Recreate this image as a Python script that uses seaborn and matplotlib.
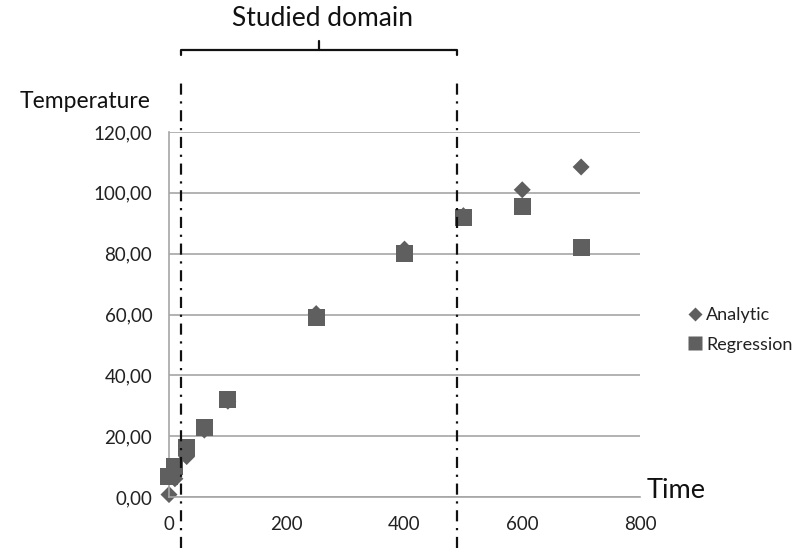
import numpy as np
import pandas as pd
import matplotlib
matplotlib.use("Agg")
import matplotlib.pyplot as plt
import matplotlib.transforms as mtransforms
from matplotlib.lines import Line2D
import seaborn as sns

# ---- data ----
time = [0, 10, 30, 60, 100, 250, 400, 500, 600, 700]
analytic = [0.8, 6.0, 13.3, 22.0, 31.5, 60.3, 81.5, 92.5, 101.0, 108.5]
regression = [6.8, 10.0, 16.3, 23.0, 32.0, 59.0, 80.0, 92.0, 95.5, 82.0]
series_names = ["Analytic", "Regression"]
x_ticks = [0, 200, 400, 600, 800]
y_ticks = [0, 20, 40, 60, 80, 100, 120]
domain_bounds = [20, 490]

sns.set_theme(style="white")
plt.rcParams['font.family'] = ['Lato', 'DejaVu Sans']

df_a = pd.DataFrame({"Time": time, "Temperature": analytic})
df_r = pd.DataFrame({"Time": time, "Temperature": regression})

mc = "#5f5f5f"
grid_c = "#a6a6a6"

fig = plt.figure(figsize=(7.97, 5.48), dpi=100)
ax = fig.add_axes([169/797, 51/548, (640-169)/797, (497-132)/548])

ax.set_xlim(0, 800)
ax.set_ylim(0, 120)
ax.set_yticks(y_ticks)
ax.set_xticks(x_ticks)
ax.yaxis.grid(True, color=grid_c, linewidth=1.2)
ax.set_axisbelow(True)

sns.scatterplot(data=df_r, x="Time", y="Temperature", marker="s", s=150,
                color=mc, edgecolor="none", ax=ax, zorder=3, clip_on=False)
sns.scatterplot(data=df_a, x="Time", y="Temperature", marker="D", s=75,
                color=mc, edgecolor="none", ax=ax, zorder=2, clip_on=False)

for side in ["top", "right"]:
    ax.spines[side].set_visible(False)
for side in ["left", "bottom"]:
    ax.spines[side].set_color(grid_c)
    ax.spines[side].set_linewidth(1.2)

ax.set_xlabel("")
ax.set_ylabel("")
ax.set_yticklabels([f"{v:.2f}".replace(".", ",") for v in y_ticks])
ax.set_xticklabels([str(v) for v in x_ticks])
ax.tick_params(axis="both", direction="out", width=1.2, color=grid_c,
               labelsize=13.5, labelcolor="#222222")
ax.tick_params(axis="y", length=4.5, pad=7.5)
ax.tick_params(axis="x", length=5, pad=9)

handles = [
    Line2D([0], [0], marker="D", color="none", markerfacecolor=mc, markeredgecolor="none", markersize=7),
    Line2D([0], [0], marker="s", color="none", markerfacecolor=mc, markeredgecolor="none", markersize=9.5),
]
leg = ax.legend(handles, series_names, loc="center left", bbox_to_anchor=(679/797, 1 - 330/548),
                bbox_transform=fig.transFigure, frameon=False, fontsize=13,
                handlelength=0.8, handletextpad=0.2, labelspacing=0.75, borderpad=0)
for t in leg.get_texts():
    t.set_color("#222222")

# axis titles
fig.text(20/797, 1 - 101/548, "Temperature", fontsize=16.5, color="#111111", va="center", ha="left")
fig.text(647/797, 1 - 491/548, "Time", fontsize=19.5, color="#111111", va="center", ha="left")

# studied domain annotation
trans = mtransforms.blended_transform_factory(ax.transData, fig.transFigure)
for xb in domain_bounds:
    fig.add_artist(Line2D([xb, xb], [0, 1 - 77/548], transform=trans, color="#111111",
                          linewidth=1.6, linestyle=(0, (5, 3, 1, 3))))
xl, xr = domain_bounds
xm = (xl + xr) / 2
yb = 1 - 50/548
ye = 1 - 55/548
yt = 1 - 41/548
fig.add_artist(Line2D([xl, xl, xr, xr], [ye, yb, yb, ye], transform=trans, color="#111111", linewidth=1.6))
fig.add_artist(Line2D([xm, xm], [yb, yt], transform=trans, color="#111111", linewidth=1.6))
fig.text(322/797, 1 - 18/548, "Studied domain", fontsize=19, color="#111111", ha="center", va="center")

fig.savefig("out.png", dpi=100)
